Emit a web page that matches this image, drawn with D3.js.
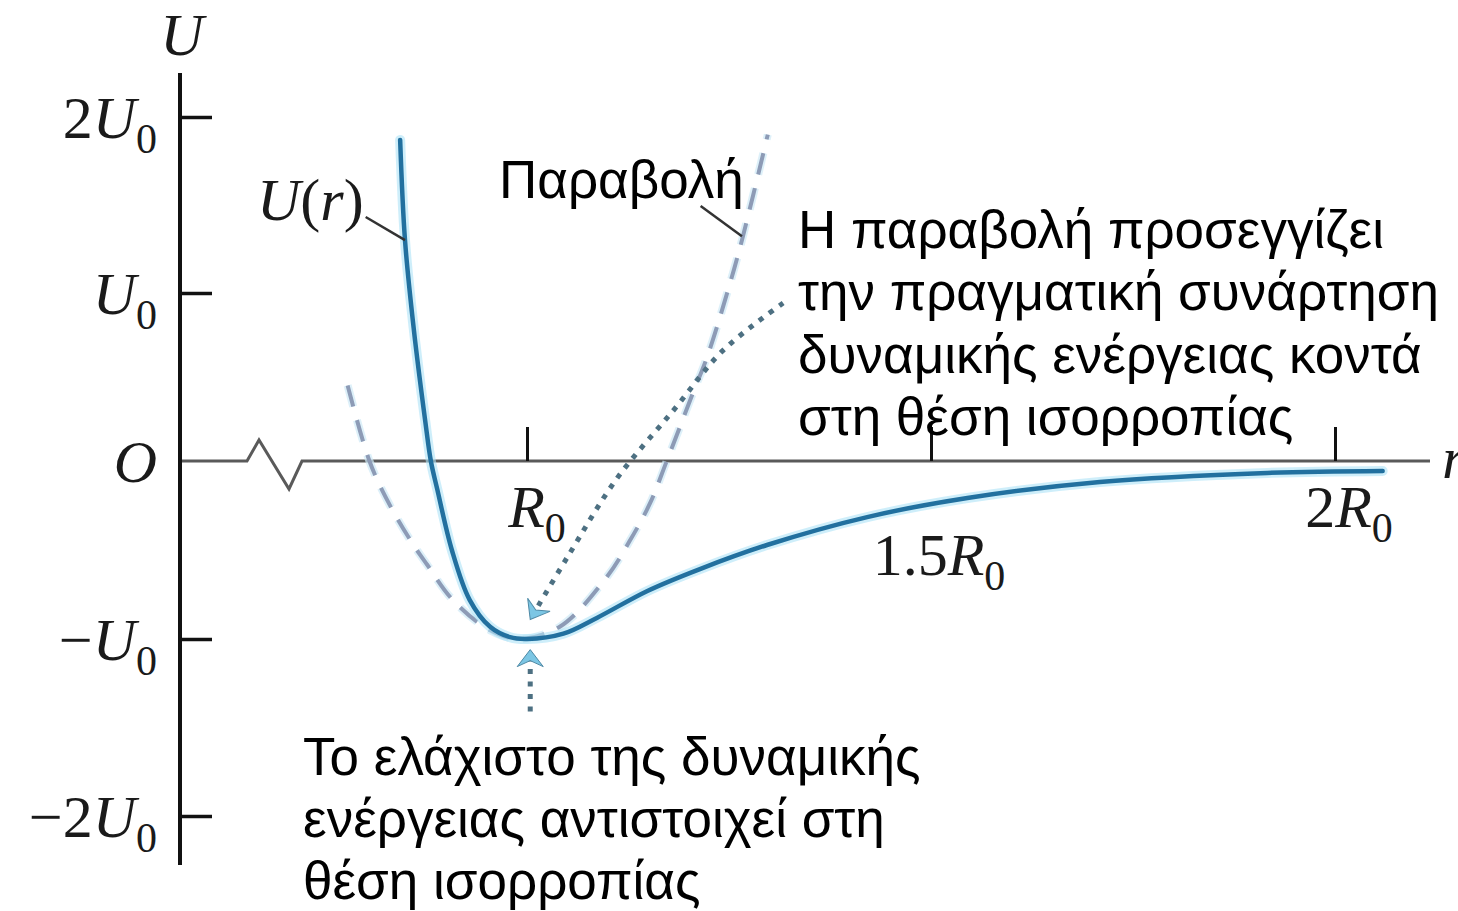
<!DOCTYPE html>
<html>
<head>
<meta charset="utf-8">
<script src="https://cdn.jsdelivr.net/npm/d3@7"></script>
<style>
  html, body { margin: 0; padding: 0; background: #fff; overflow: hidden; }
  svg { display: block; }
</style>
</head>
<body>
<svg id="chart" width="1458" height="911"></svg>
<script>
// Potential energy U(r) of a two-atom system and its parabolic approximation near r = R0.
// r in units of R0, U in units of U0.

// U(r) curve
const rValues = [0.843, 0.849, 0.860, 0.874, 0.881, 0.889, 0.907, 0.929, 0.954, 0.979, 1.0,
                 1.045, 1.087, 1.149, 1.214, 1.297, 1.421, 1.545, 1.709, 1.916, 2.059];
const uValues = [1.87, 1.30, 0.78, 0.24, 0, -0.16, -0.50, -0.78, -0.93, -0.99, -1.0,
                 -0.97, -0.88, -0.73, -0.607, -0.472, -0.315, -0.208, -0.118, -0.067, -0.056];

// Parabola (dashed)
const parabolaR = [0.778, 0.805, 0.827, 0.855, 0.876, 0.908, 0.954, 0.991, 1.041,
                   1.099, 1.127, 1.152, 1.173, 1.205, 1.223, 1.249, 1.266, 1.298];
const parabolaU = [0.45, 0, -0.22, -0.44, -0.58, -0.78, -0.95, -1.0, -0.93,
                   -0.65, -0.45, -0.24, 0, 0.40, 0.62, 1.02, 1.30, 1.90];

// Axis ticks
const yTickValues = [2, 1, 0, -1, -2];
const yTickLabels = ["2U0", "U0", "O", "−U0", "−2U0"];
const xTickValues = [1, 1.5, 2];
const xTickLabels = ["R0", "1.5R0", "2R0"];

// Dotted pointers
const pointerR = [1.317, 1.243, 1.181, 1.111, 1.050, 1.004];
const pointerU = [0.94, 0.66, 0.30, -0.10, -0.54, -0.89];
const minPointerR = [1.004, 1.004];
const minPointerU = [-1.41, -1.06];

// Leader targets
const curveLabelPoint = [0.849, 1.30];
const parabolaLabelPoint = [1.266, 1.30];

// Callout texts
const calloutParabola = ["Η παραβολή προσεγγίζει", "την πραγματική συνάρτηση",
                         "δυναμικής ενέργειας κοντά", "στη θέση ισορροπίας"];
const calloutMinimum = ["Το ελάχιστο της δυναμικής", "ενέργειας αντιστοιχεί στη",
                        "θέση ισορροπίας"];

const SERIF = '"Liberation Serif", "Times New Roman", serif';
const SANS = '"Liberation Sans", Arial, sans-serif';
const TEXT_SIZE = 53;

const svg = d3.select("#chart");

const x = d3.scaleLinear().domain([1, 2]).range([527, 1335]);
const y = d3.scaleLinear().domain([-2, -1, 0, 1, 2]).range([816, 639, 461, 293, 117]);

const axisX = 180, axisTop = 73, axisBottom = 865, axisRight = 1430;
const y0 = y(0);

const defs = svg.append("defs");
defs.append("marker")
  .attr("id", "head")
  .attr("viewBox", "-20 -16 22 32")
  .attr("refX", 0).attr("refY", 0)
  .attr("markerWidth", 22).attr("markerHeight", 32)
  .attr("markerUnits", "userSpaceOnUse")
  .attr("orient", "auto")
  .append("path")
  .attr("d", "M-17,-13 L0,0 L-17,13 L-11,0 Z")
  .attr("fill", "#7cc6e4")
  .attr("stroke", "#4f8aa6")
  .attr("stroke-width", 1);

// Horizontal axis with a break near the origin
const brk = [[axisX, y0], [247, y0], [259, y0 - 21], [289, y0 + 28], [302, y0], [axisRight, y0]];
svg.append("path")
  .attr("d", d3.line()(brk))
  .attr("fill", "none")
  .attr("stroke", "#5a5a5a")
  .attr("stroke-width", 3);

const gx = svg.append("g")
  .attr("transform", `translate(0,${y0})`)
  .call(d3.axisTop(x).tickValues(xTickValues).tickSize(34).tickFormat(""));
gx.select(".domain").remove();
gx.selectAll(".tick line").attr("stroke", "#111").attr("stroke-width", 3);

// Vertical axis
svg.append("line")
  .attr("x1", axisX).attr("x2", axisX)
  .attr("y1", axisTop).attr("y2", axisBottom)
  .attr("stroke", "#111").attr("stroke-width", 4);

const gy = svg.append("g")
  .attr("transform", `translate(${axisX},0)`)
  .call(d3.axisRight(y).tickValues(yTickValues.filter(v => v !== 0)).tickSize(32).tickFormat(""));
gy.select(".domain").remove();
gy.selectAll(".tick line").attr("stroke", "#111").attr("stroke-width", 3.5);

// Math-style label: optional prefix, italic symbol, subscript 0
function mathLabel(text, str) {
  const m = str.match(/^([−\d.]*)([UROr])(0?)$/);
  if (m[1]) text.append("tspan").text(m[1]);
  text.append("tspan").attr("font-style", "italic").text(m[2]);
  if (m[3]) text.append("tspan").attr("font-size", 42).attr("dy", 15).text(m[3]);
}

yTickValues.forEach((v, i) => {
  const t = svg.append("text")
    .attr("x", 157).attr("y", y(v) + 21)
    .attr("text-anchor", "end")
    .attr("font-family", SERIF).attr("font-size", 60)
    .attr("fill", "#1a1a1a");
  mathLabel(t, yTickLabels[i]);
});

const xLabelDx = [10, 8, 14];
const xLabelDy = [66, 114, 66];
xTickValues.forEach((v, i) => {
  const t = svg.append("text")
    .attr("x", x(v) + xLabelDx[i]).attr("y", y0 + xLabelDy[i])
    .attr("text-anchor", "middle")
    .attr("font-family", SERIF).attr("font-size", 60)
    .attr("fill", "#1a1a1a");
  mathLabel(t, xTickLabels[i]);
});

// Axis titles
svg.append("text").attr("x", 182).attr("y", 55).attr("text-anchor", "middle")
  .attr("font-family", SERIF).attr("font-size", 60).attr("font-style", "italic")
  .attr("fill", "#1a1a1a").text("U");
svg.append("text").attr("x", 1442).attr("y", y0 + 17)
  .attr("font-family", SERIF).attr("font-size", 60).attr("font-style", "italic")
  .attr("fill", "#1a1a1a").text("r");

// Parabola
const line = d3.line().x(d => x(d[0])).y(d => y(d[1])).curve(d3.curveCatmullRom.alpha(0.5));
const paraData = parabolaR.map((r, i) => [r, parabolaU[i]]);
svg.append("path").attr("d", line(paraData))
  .attr("fill", "none").attr("stroke", "#cfe9f6").attr("stroke-width", 8)
  .attr("stroke-dasharray", "22,14").attr("opacity", 0.7);
svg.append("path").attr("d", line(paraData))
  .attr("fill", "none").attr("stroke", "#8d9bb6").attr("stroke-width", 4)
  .attr("stroke-dasharray", "22,14");

// U(r) curve
const curveData = rValues.map((r, i) => [r, uValues[i]]);
svg.append("path").attr("d", line(curveData))
  .attr("fill", "none").attr("stroke", "#aee3f6").attr("stroke-width", 10)
  .attr("stroke-linecap", "round").attr("opacity", 0.6);
svg.append("path").attr("d", line(curveData))
  .attr("fill", "none").attr("stroke", "#22709f").attr("stroke-width", 4.5)
  .attr("stroke-linecap", "round");

// Dotted pointers to the minimum
const pointerLine = d3.line().x(d => x(d[0])).y(d => y(d[1])).curve(d3.curveCatmullRom.alpha(0.5));
svg.append("path")
  .attr("d", pointerLine(pointerR.map((r, i) => [r, pointerU[i]])))
  .attr("fill", "none").attr("stroke", "#4d7082").attr("stroke-width", 5)
  .attr("stroke-dasharray", "5,7.5")
  .attr("marker-end", "url(#head)");
svg.append("path")
  .attr("d", pointerLine(minPointerR.map((r, i) => [r, minPointerU[i]])))
  .attr("fill", "none").attr("stroke", "#4d7082").attr("stroke-width", 5)
  .attr("stroke-dasharray", "5,7.5")
  .attr("marker-end", "url(#head)");

// U(r) label with leader
const uLabel = svg.append("text").attr("x", 257).attr("y", 220)
  .attr("font-family", SERIF).attr("font-size", 60).attr("fill", "#1a1a1a");
uLabel.append("tspan").attr("font-style", "italic").text("U");
uLabel.append("tspan").text("(");
uLabel.append("tspan").attr("font-style", "italic").text("r");
uLabel.append("tspan").text(")");
const ub = uLabel.node().getBBox();
svg.append("line")
  .attr("x1", ub.x + ub.width + 2).attr("y1", 217)
  .attr("x2", x(curveLabelPoint[0])).attr("y2", y(curveLabelPoint[1]))
  .attr("stroke", "#333").attr("stroke-width", 2.5);

// Parabola label with leader
const pLabel = svg.append("text").attr("x", 499).attr("y", 198)
  .attr("font-family", SANS).attr("font-size", TEXT_SIZE).attr("fill", "#000")
  .text("Παραβολή");
const pb = pLabel.node().getBBox();
svg.append("line")
  .attr("x1", pb.x + pb.width - 43).attr("y1", 206)
  .attr("x2", x(parabolaLabelPoint[0])).attr("y2", y(parabolaLabelPoint[1]) - 4)
  .attr("stroke", "#333").attr("stroke-width", 2.5);

// Callouts
function callout(lines, x0, firstBaseline, step) {
  const t = svg.append("text")
    .attr("font-family", SANS).attr("font-size", TEXT_SIZE).attr("fill", "#000");
  lines.forEach((s, i) => {
    t.append("tspan").attr("x", x0).attr("y", firstBaseline + i * step).text(s);
  });
}
callout(calloutParabola, 798, 248, 62.3);
callout(calloutMinimum, 303, 775, 62);
</script>
</body>
</html>
